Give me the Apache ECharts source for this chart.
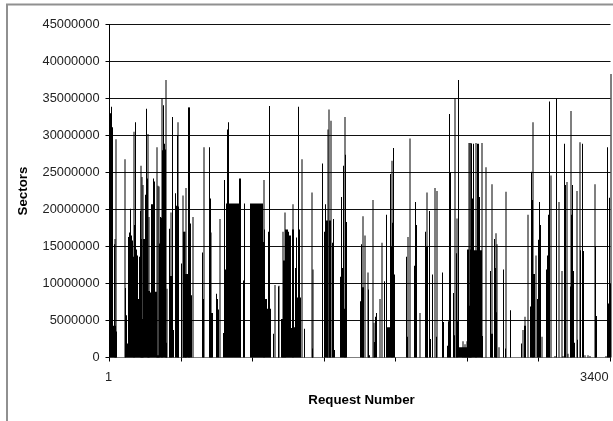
<!DOCTYPE html>
<html><head><meta charset="utf-8">
<style>html,body{margin:0;padding:0;background:#fff}#c{width:613px;height:421px}</style>
<script src="https://cdn.jsdelivr.net/npm/echarts@6/dist/echarts.min.js"></script>
</head><body><div id="c"></div>
<script>
// Each entry: [bin along the request axis (0..501 ≈ 6.8 requests per bin), sectors in millions]
const solidSpikes = [[1,33],[2,33.9],[3,31.1],[4,4.3],[5,15.3],[6,4.3],[7,3.5],[16,9.4],[17,5.7],[18,1.9],[19,16.3],[20,16.9],[21,20.1],[22,16.5],[23,15.8],[24,13.6],[25,17.9],[26,31.8],[27,14.6],[28,13.8],[29,7.9],[30,13.6],[31,19.8],[32,16],[33,5.2],[34,16],[35,16],[36,22],[37,33.6],[38,24.2],[39,9],[40,9],[41,8.8],[42,20.7],[43,20.7],[44,24.2],[45,23.8],[46,8.9],[47,8.9],[48,0.3],[49,0.3],[50,15.4],[51,19],[52,18.9],[53,28],[54,34.1],[55,28.9],[56,28.1],[57,2],[60,17.4],[61,11],[62,11],[63,32.5],[64,3.7],[66,22.2],[67,20.5],[68,30],[69,20.4],[72,12.7],[74,17],[75,17],[76,11.3],[77,11.3],[78,11.3],[79,33.8],[80,33.8],[81,18.1],[82,8.4],[93,14.2],[94,7.9],[100,28.4],[101,21.5],[102,6],[103,6],[107,8.6],[108,7.9],[109,6.5],[114,3.3],[115,24],[116,11.9],[117,20.8],[118,30.8],[119,31.8],[120,20.8],[121,20.8],[122,20.8],[123,20.8],[124,20.8],[125,20.8],[126,20.8],[127,20.8],[128,20.8],[129,20.8],[130,24.2],[131,24.2],[134,10.4],[135,20.8],[141,20.8],[142,20.8],[143,20.8],[144,20.8],[145,20.8],[146,20.8],[147,20.8],[148,20.8],[149,20.8],[150,20.8],[151,20.8],[152,20.8],[153,20.8],[154,15.6],[155,17.3],[156,7.9],[157,7.9],[158,6.6],[159,17],[160,34],[161,6.6],[164,3.2],[169,9.6],[172,5.2],[173,5.2],[174,13.1],[175,13.1],[176,17.3],[177,17.3],[178,17.3],[179,17],[180,16.5],[181,16.5],[182,4],[183,17.3],[184,17.3],[185,4.1],[186,12.1],[187,16.2],[188,8.1],[189,33.9],[190,17.3],[191,8.1],[195,3.9],[203,1.2],[213,26.2],[215,17],[216,20.7],[217,18.5],[218,18.5],[220,18.5],[221,18.5],[223,15.5],[224,18.7],[225,1],[231,10.9],[232,21.7],[233,12.1],[234,25.9],[235,6.6],[236,27.4],[237,18.3],[251,7.6],[252,15.3],[253,9.5],[254,9.5],[259,9.2],[260,0.3],[265,2.1],[266,5.5],[267,6],[275,10.3],[277,19.3],[278,4.1],[279,4.1],[280,4.1],[281,24.8],[282,15],[283,18.2],[284,28.3],[285,11.2],[297,13.6],[298,2.8],[305,12.4],[306,21],[307,17.9],[316,17],[317,15],[318,15],[320,19.8],[321,2.5],[323,11.2],[327,2.8],[333,11.5],[334,4.8],[338,1.6],[339,4.9],[340,32.9],[341,25],[344,8.7],[345,3],[347,14.1],[348,4.9],[349,37.5],[350,1.4],[351,1.4],[352,1.4],[353,1.4],[354,1.4],[355,1.4],[356,1.4],[357,1.4],[358,14.6],[359,14.6],[360,7],[361,14.6],[362,28.9],[363,21.5],[364,28.9],[365,14.5],[366,14.5],[367,14.5],[368,28.9],[369,28.9],[370,21.7],[371,14.5],[372,14.5],[373,2.9],[381,11.7],[382,3.2],[383,3.2],[385,16],[386,12.1],[387,6.1],[394,11.9],[396,1.2],[401,6.4],[412,1.9],[415,4.3],[416,4.3],[421,6.9],[422,25.1],[423,21.3],[424,11.3],[425,11.3],[428,7.9],[429,15.9],[430,21],[431,17.9],[437,11.9],[438,13.8],[439,19.3],[440,34.6],[447,35],[455,28.9],[456,23.3],[461,9.6],[462,19.3],[463,23.3],[464,11.7],[465,2],[468,2.4],[471,14.5],[473,28.9],[474,14.4],[486,15],[487,5.6],[498,28.4],[499,7.3],[500,21.6],[501,10]];
const faintSpikes = [[5,16],[6,29.5],[15,26.8],[24,30.5],[31,25.9],[32,24.4],[33,23.3],[38,30.2],[39,19],[47,28.4],[48,23.2],[49,23.1],[52,35],[56,37.5],[57,9.3],[61,19.6],[68,31.8],[73,21.9],[75,17],[76,22.9],[79,33.8],[83,19],[94,28.4],[101,16.9],[110,18.7],[154,24],[165,9.8],[169,9.7],[173,17],[175,19.6],[183,20.7],[192,26.8],[202,22.3],[203,11.9],[218,30.8],[219,33.5],[221,32],[235,32.5],[253,19.1],[255,16.5],[258,11.5],[263,21.3],[264,4.7],[270,7.9],[272,15.5],[282,26.6],[298,16.3],[300,29.6],[310,6],[317,22.3],[325,22.9],[327,22.5],[345,35],[347,18.8],[353,2.2],[355,1.8],[357,2.2],[359,29],[360,29],[361,29],[366,29],[372,29],[376,25.7],[382,23.4],[386,16.8],[387,15.3],[389,1.4],[396,22.4],[413,3.7],[415,5.5],[418,19.3],[423,31.8],[426,13.8],[432,2.8],[441,24.6],[445,0.2],[449,21],[452,11.7],[453,0.2],[457,23.7],[458,0.5],[461,33.3],[467,22.5],[470,29.1],[475,0.3],[478,0.3],[480,0.2],[485,23.4],[496,0.2],[501,38.3]];
const binCount = 502;
const xTickBins = [0,72,143,215,286,358,429,501];
const xLabelBins = [0,501];
const xLabels = {0:'1',501:'3400'};
const yTickStep = 5000000, yMax = 45000000;

const categories = Array.from({length: binCount}, (_, i) => String(i));
const toData = list => list.map(([bin, m]) => [String(bin), m * 1e6]);
const font = '"Liberation Sans", Arial, sans-serif';
const bar = (data, axis) => ({type:'bar', xAxisIndex:axis, yAxisIndex:axis, data, barWidth:1, clip:false, silent:true, animation:false, itemStyle:{color:'#000'}});

const chart = echarts.init(document.getElementById('c'), null, {renderer:'canvas'});
chart.setOption({
  animation:false,
  backgroundColor:'#fff',
  grid:[
    {left:109.5, top:24.5, width:501, height:333},
    {left:110, top:24.5, width:501, height:333}
  ],
  xAxis:[
    {type:'category', gridIndex:0, data:categories, boundaryGap:false, name:'Request Number', nameLocation:'middle', nameGap:36,
     nameTextStyle:{fontFamily:font, fontSize:13.3, fontWeight:'bold', color:'#000', padding:[0,0,0,3]},
     axisLine:{lineStyle:{color:'#808080', width:1}},
     axisTick:{show:true, customValues:xTickBins, length:4, lineStyle:{color:'#000'}},
     axisLabel:{show:true, customValues:xLabelBins, margin:13, fontFamily:font, fontSize:12.8, color:'#222',
       alignMaxLabel:'right', padding:[0,2,0,0], formatter:(v,i)=>xLabels[v] ?? xLabels[i] ?? ''},
     splitLine:{show:false}},
    {type:'category', gridIndex:1, data:categories, boundaryGap:false, show:false}
  ],
  yAxis:[
    {type:'value', gridIndex:0, min:0, max:yMax, interval:yTickStep, name:'Sectors', nameLocation:'middle', nameGap:80,
     nameTextStyle:{fontFamily:font, fontSize:13.3, fontWeight:'bold', color:'#000'},
     axisLine:{show:true, lineStyle:{color:'#000', width:1}},
     axisTick:{show:true, length:4, lineStyle:{color:'#000'}},
     axisLabel:{margin:10, fontFamily:font, fontSize:12.8, color:'#222', formatter:v=>String(v)},
     splitLine:{show:true, lineStyle:{color:'#111', width:1}}},
    {type:'value', gridIndex:1, min:0, max:yMax, interval:yTickStep, show:false}
  ],
  series:[ bar(toData(faintSpikes),1), bar(toData(solidSpikes),0) ],
  graphic:[
    {type:'polyline', silent:true, shape:{points:[[7,421],[7,4.5],[613,4.5]]}, style:{stroke:'#909090', fill:null, lineWidth:2}}
  ]
});
</script></body></html>
